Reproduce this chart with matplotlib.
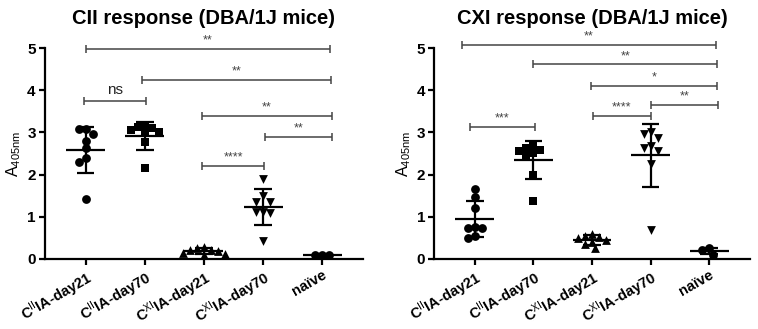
import numpy as np
import matplotlib
matplotlib.use('Agg')
import matplotlib.pyplot as plt

plt.rcParams['font.family'] = ['Liberation Sans', 'DejaVu Sans']
plt.rcParams['mathtext.fontset'] = 'custom'
plt.rcParams['mathtext.rm'] = 'Liberation Sans'
plt.rcParams['mathtext.it'] = 'Liberation Sans:italic'
plt.rcParams['mathtext.bf'] = 'Liberation Sans:bold'

# ---------------- data ----------------
categories = [r'C$^{\rm II}$IA-day21', r'C$^{\rm II}$IA-day70',
              r'C$^{\rm XI}$IA-day21', r'C$^{\rm XI}$IA-day70', 'naïve']
titles = ['CII response (DBA/1J mice)', 'CXI response (DBA/1J mice)']
yticks = [0, 1, 2, 3, 4, 5]

# CII response
cii_cii_d21 = [3.09, 3.08, 2.95, 2.80, 2.62, 2.40, 2.30, 1.43]
cii_cii_d70 = [3.15, 3.12, 3.10, 3.05, 3.00, 2.98, 2.78, 2.16]
cii_cxi_d21 = [0.28, 0.25, 0.22, 0.20, 0.18, 0.15, 0.12, 0.10]
cii_cxi_d70 = [1.90, 1.48, 1.36, 1.36, 1.12, 1.12, 1.10, 0.43]
cii_naive = [0.10, 0.09, 0.10]

# CXI response
cxi_cii_d21 = [1.65, 1.47, 1.20, 0.76, 0.74, 0.74, 0.50, 0.55]
cxi_cii_d70 = [2.68, 2.62, 2.58, 2.55, 2.50, 2.45, 2.00, 1.38]
cxi_cxi_d21 = [0.58, 0.55, 0.52, 0.50, 0.45, 0.40, 0.35, 0.25]
cxi_cxi_d70 = [3.01, 2.95, 2.87, 2.68, 2.63, 2.55, 2.26, 0.69]
cxi_naive = [0.25, 0.22, 0.10]

# significance annotations: (x start, x end, y level, label)
cii_sig_x0 = [0.0, 0.95, -0.03, 1.96, 3.03, 1.97]
cii_sig_x1 = [4.13, 4.15, 1.02, 4.16, 4.16, 3.02]
cii_sig_y = [4.98, 4.25, 3.75, 3.40, 2.90, 2.21]
cii_sig_lab = ['**', '**', 'ns', '**', '**', '****']

cxi_sig_x0 = [-0.22, 1.0, 1.98, 3.0, 2.02, -0.08]
cxi_sig_x1 = [4.12, 4.13, 4.14, 4.15, 3.0, 1.02]
cxi_sig_y = [5.08, 4.61, 4.11, 3.65, 3.39, 3.13]
cxi_sig_lab = ['**', '**', '*', '**', '****', '***']

markers = ['o', 's', '^', 'v', 'o']

panels = [
    dict(title=titles[0],
         groups=[cii_cii_d21, cii_cii_d70, cii_cxi_d21, cii_cxi_d70, cii_naive],
         sx0=cii_sig_x0, sx1=cii_sig_x1, sy=cii_sig_y, slab=cii_sig_lab,
         rect=[0.059, 0.213, 0.420, 0.641]),
    dict(title=titles[1],
         groups=[cxi_cii_d21, cxi_cii_d70, cxi_cxi_d21, cxi_cxi_d70, cxi_naive],
         sx0=cxi_sig_x0, sx1=cxi_sig_x1, sy=cxi_sig_y, slab=cxi_sig_lab,
         rect=[0.573, 0.213, 0.416, 0.641]),
]

fig = plt.figure(figsize=(7.58, 3.29), dpi=100)


def swarm_offsets(ax, vals, diam_px):
    """Beeswarm-like horizontal offsets (data units) so markers don't overlap too much."""
    p0 = ax.transData.transform((0, 0))
    p1 = ax.transData.transform((1, 1))
    sx = p1[0] - p0[0]
    sy = p1[1] - p0[1]
    ys = np.asarray(vals) * sy
    order = np.argsort(-np.asarray(vals))
    placed = []
    offs = np.zeros(len(vals))
    step = diam_px * 0.5
    for i in order:
        for k in range(0, 60):
            cands = [0.0] if k == 0 else [-k * step, k * step]
            ok = None
            for c in cands:
                if all((c - px) ** 2 + (ys[i] - py) ** 2 >= diam_px ** 2
                       for px, py in placed):
                    ok = c
                    break
            if ok is not None:
                offs[i] = ok
                placed.append((ok, ys[i]))
                break
    return offs / sx


for p in panels:
    ax = fig.add_axes(p['rect'])
    ax.set_xlim(-0.69, 4.69)
    ax.set_ylim(0, 5)
    for s in ['top', 'right']:
        ax.spines[s].set_visible(False)
    for s in ['left', 'bottom']:
        ax.spines[s].set_linewidth(1.6)
    ax.set_xticks(range(len(categories)))
    ax.set_xticklabels(categories, rotation=30, ha='right', rotation_mode='anchor',
                       fontsize=10.5, fontweight='bold')
    ax.set_yticks(yticks)
    ax.set_yticklabels([str(t) for t in yticks], fontsize=11, fontweight='bold')
    ax.tick_params(width=1.6, length=4.5, pad=2)
    ax.set_ylabel(r'A$_{\rm 405nm}$', fontsize=11.5, labelpad=3)
    ax.set_title(p['title'], fontsize=14.5, fontweight='bold', pad=17)

    for gi, vals in enumerate(p['groups']):
        offs = swarm_offsets(ax, vals, 7.0)
        ax.scatter(gi + offs, vals, marker=markers[gi], s=40, color='black',
                   linewidths=0, zorder=3, clip_on=False)
        m = np.mean(vals)
        sd = np.std(vals, ddof=1)
        ax.hlines(m, gi - 0.33, gi + 0.33, color='black', lw=1.6, zorder=4)
        ax.hlines([m - sd, m + sd], gi - 0.15, gi + 0.15, color='black', lw=1.6, zorder=4)
        ax.vlines(gi, m - sd, m + sd, color='black', lw=1.6, zorder=4)

    for x0, x1, y, lab in zip(p['sx0'], p['sx1'], p['sy'], p['slab']):
        ax.plot([x0, x1], [y, y], color='#444444', lw=1.1, clip_on=False,
                solid_capstyle='butt')
        ax.plot([x0, x1], [y, y], ls='none', marker='|', ms=6, mew=1.1,
                color='#444444', clip_on=False)
        if lab == 'ns':
            ax.annotate(lab, ((x0 + x1) / 2, y), xytext=(0, 3), textcoords='offset points',
                        ha='center', va='bottom', fontsize=11, color='#222222',
                        annotation_clip=False)
        else:
            ax.annotate(lab, ((x0 + x1) / 2, y), xytext=(0, 1.5), textcoords='offset points',
                        ha='center', va='bottom', fontsize=9, color='#444444',
                        annotation_clip=False)

fig.savefig('out.png', dpi=100)
